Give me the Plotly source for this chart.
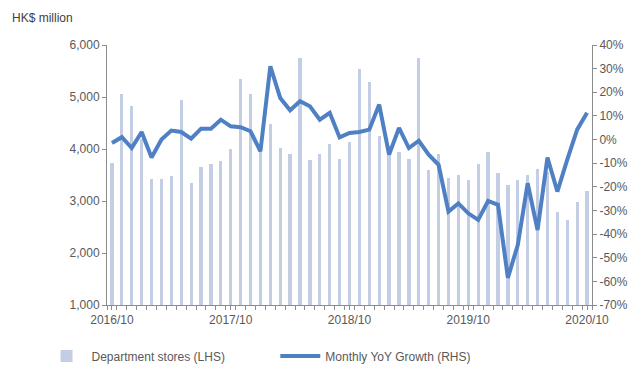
import plotly.graph_objects as go

# Months from 2016/10 to 2020/10
months = []
y, m = 2016, 10
for _ in range(49):
    months.append(f"{y}/{m:02d}")
    m += 1
    if m > 12:
        m = 1
        y += 1

# Department store sales (HK$ million, LHS)
sales = [3730, 5050, 4820, 4200, 3420, 3420, 3490, 4950, 3340, 3660,
         3710, 3770, 4000, 5350, 5050, 4100, 4490, 4010, 3900, 5750,
         3790, 3910, 4100, 3800, 4130, 5530, 5290, 4250, 4050, 3950,
         3800, 5750, 3590, 3900, 3450, 3500, 3400, 3710, 3950, 3540,
         3300, 3400, 3500, 3610, 3550, 2790, 2630, 2990, 3200]

# Monthly YoY growth (%, RHS)
growth = [-1.5, 1.0, -3.6, 3.2, -7.6, 0.0, 3.8, 3.2, 0.4, 4.6,
          4.6, 8.4, 5.6, 5.2, 3.5, -5.0, 31.0, 17.6, 12.4, 16.2,
          14.1, 8.4, 11.3, 0.9, 2.8, 3.2, 4.2, 14.8, -6.4, 4.9,
          -3.6, -0.5, -6.4, -10.7, -30.5, -27.0, -31.2, -34.0, -26.0, -27.6,
          -58.5, -44.6, -18.5, -38.3, -7.6, -22.0, -8.5, 4.2, 11.3]

tick_labels = ["2016/10", "2017/10", "2018/10", "2019/10", "2020/10"]
left_ticks = [1000, 2000, 3000, 4000, 5000, 6000]
right_ticks = list(range(-70, 41, 10))

x_idx = list(range(len(months)))
tick_pos = [months.index(t) for t in tick_labels]

FONT = "Liberation Sans, Arial, sans-serif"
GREY = "#595959"
AXIS = "#8c8c8c"

fig = go.Figure()
fig.add_trace(go.Bar(
    x=x_idx, y=sales, name="Department stores (LHS)",
    marker=dict(color="#c3cde3", line=dict(width=0)),
    width=0.33, base=0, yaxis="y", legend="legend",
))
fig.add_trace(go.Scatter(
    x=x_idx, y=growth, name="Monthly YoY Growth (RHS)",
    mode="lines", line=dict(color="#4f80c4", width=4),
    yaxis="y2", legend="legend2",
))

leg_common = dict(orientation="h", yanchor="top", y=-0.14, xanchor="left",
                  font=dict(size=12, color=GREY), itemwidth=40,
                  bgcolor="rgba(0,0,0,0)")

fig.update_layout(
    width=644, height=376,
    margin=dict(l=107, r=52, t=45, b=71, autoexpand=False),
    paper_bgcolor="white", plot_bgcolor="white",
    font=dict(family=FONT, size=12, color=GREY),
    showlegend=True,
    legend=dict(x=-0.135, **leg_common),
    legend2=dict(x=0.347, **leg_common),
    bargap=0,
    xaxis=dict(
        range=[-0.5, len(months) - 0.5],
        tickmode="array", tickvals=tick_pos, ticktext=tick_labels,
        showline=True, linecolor=AXIS, linewidth=1,
        ticks="outside", ticklen=4, tickcolor=AXIS,
        minor=dict(dtick=1, tick0=-0.5, ticks="outside", ticklen=4, tickcolor=AXIS),
        showgrid=False, zeroline=False,
        tickfont=dict(size=12, color=GREY),
    ),
    yaxis=dict(
        range=[1000, 6000], tickmode="array", tickvals=left_ticks,
        ticktext=[f"{v:,}" for v in left_ticks],
        showline=True, linecolor=AXIS, linewidth=1,
        ticks="outside", ticklen=4, tickcolor=AXIS,
        showgrid=False, zeroline=False,
        tickfont=dict(size=12, color=GREY),
    ),
    yaxis2=dict(
        overlaying="y", side="right",
        range=[-70, 40], tickmode="array", tickvals=right_ticks,
        ticktext=[f"{v}%" for v in right_ticks],
        showline=True, linecolor=AXIS, linewidth=1,
        ticks="outside", ticklen=4, tickcolor=AXIS,
        showgrid=False, zeroline=False,
        tickfont=dict(size=12, color=GREY),
    ),
    annotations=[dict(
        text="HK$ million", xref="paper", yref="paper",
        x=-0.2, y=1.104, xanchor="left", yanchor="middle",
        showarrow=False, font=dict(size=12, color="#404040"),
    )],
)

fig.write_html("out.html")
